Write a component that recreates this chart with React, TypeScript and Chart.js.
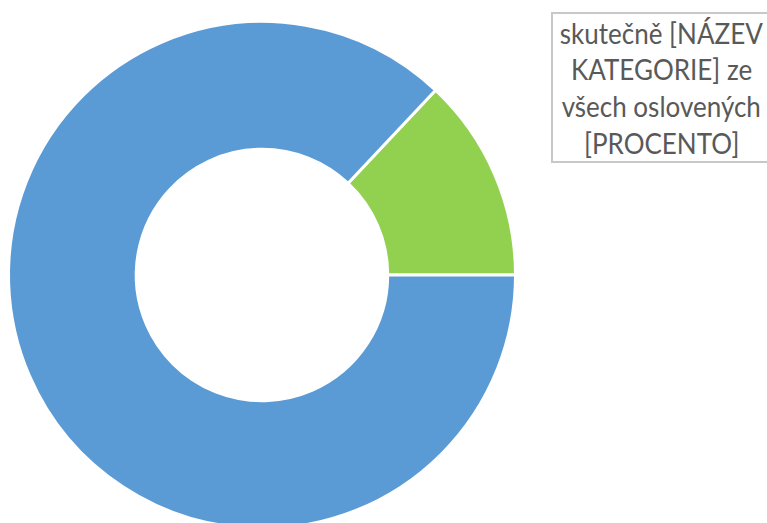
import React, { useEffect, useRef, useState } from "react";
import { Chart, registerables } from "chart.js";

Chart.register(...registerables);

const categories: string[] = ["skutečně", "ostatní"];
const values: number[] = [13, 87];
const colors: string[] = ["#92D050", "#5B9BD5"];
const labelLines: string[] = [
  "skutečně [NÁZEV",
  "KATEGORIE] ze",
  "všech oslovených",
  "[PROCENTO]",
];

const FONT = "28px Lato";
const TARGET_W = 203;

export default function App() {
  const canvasRef = useRef<HTMLCanvasElement | null>(null);
  const [scale, setScale] = useState(0.84);

  useEffect(() => {
    const c = document.createElement("canvas");
    const ctx = c.getContext("2d");
    if (ctx) {
      ctx.font = FONT;
      const w = ctx.measureText(labelLines[0]).width;
      if (w > 0) setScale(TARGET_W / w);
    }
  }, []);

  useEffect(() => {
    if (!canvasRef.current) return;
    const chart = new Chart(canvasRef.current, {
      type: "doughnut",
      data: {
        labels: categories,
        datasets: [
          {
            data: values,
            backgroundColor: colors,
            borderColor: "#ffffff",
            borderWidth: 3,
          },
        ],
      },
      options: {
        responsive: false,
        animation: false,
        rotation: 43.2,
        cutout: "49.6%",
        layout: { padding: { left: 7, right: 250, top: 20, bottom: 30 } },
        plugins: {
          legend: { display: false },
          tooltip: { enabled: false },
          title: { display: false },
        },
      },
    });
    return () => chart.destroy();
  }, []);

  return (
    <div
      style={{
        position: "fixed",
        left: 0,
        top: 0,
        width: 767,
        height: 523,
        overflow: "hidden",
        background: "#ffffff",
      }}
    >
      <canvas
        ref={canvasRef}
        width={767}
        height={560}
        style={{ position: "absolute", left: 0, top: 0, width: 767, height: 560 }}
      />
      <div
        style={{
          position: "absolute",
          left: 551,
          top: 12,
          width: 224,
          height: 151,
          boxSizing: "border-box",
          border: "2px solid #c8c8c8",
          background: "#ffffff",
        }}
      />
      <div
        style={{
          position: "absolute",
          left: 551.5,
          top: 14.8,
          width: 220,
          fontFamily: "Lato, 'Open Sans', sans-serif",
          fontSize: 28,
          lineHeight: "36.7px",
          color: "#595959",
          whiteSpace: "nowrap",
        }}
      >
        {labelLines.map((l, i) => (
          <div
            key={i}
            style={{
              display: "flex",
              justifyContent: "center",
              width: 220,
              height: 36.7,
            }}
          >
            <span
              style={{
                display: "inline-block",
                flexShrink: 0,
                transform: `scaleX(${scale})`,
                transformOrigin: "center",
              }}
            >
              {l}
            </span>
          </div>
        ))}
      </div>
    </div>
  );
}
